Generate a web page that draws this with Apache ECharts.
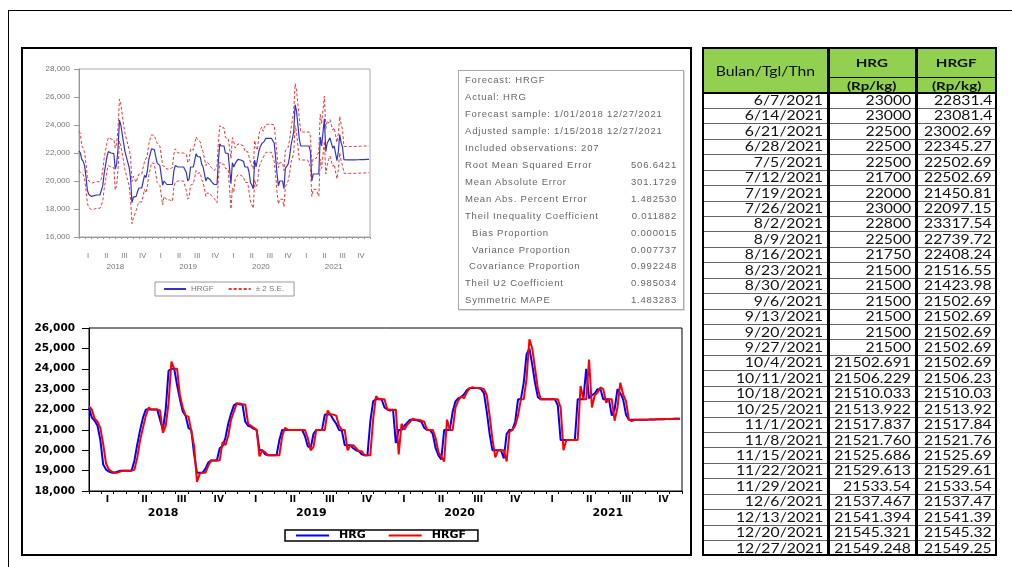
<!DOCTYPE html>
<html>
<head>
<meta charset="utf-8">
<script src="https://cdn.jsdelivr.net/npm/echarts@6/dist/echarts.min.js"></script>
<style>
body { margin: 0; background: #fff; }
#page { position: relative; width: 1012px; height: 567px; overflow: hidden; font-family: 'Liberation Sans', Arial, sans-serif; }
.frameTop { position: absolute; left: 8px; top: 10px; width: 1004px; height: 0; border-top: 1.5px solid #000; }
.frameLeft { position: absolute; left: 8px; top: 10px; width: 0; height: 557px; border-left: 1.5px solid #000; }
.panel { position: absolute; left: 21px; top: 47px; width: 671px; height: 509px; box-sizing: border-box; border: 2px solid #000; }
#chart { position: absolute; left: 0; top: 0; width: 1012px; height: 567px; }
#stats { position: absolute; left: 458px; top: 70px; width: 226px; height: 240px; box-sizing: border-box; border: 1px solid #aaa; box-shadow: 1px 1px 0 #ddd; color: #666; font-size: 9.5px; letter-spacing: 0.8px; }
#stats .ln { position: absolute; left: 6px; right: 6px; height: 17px; line-height: 17px; white-space: nowrap; }
#stats .val { position: absolute; right: 0; top: 0; }
#tbl { position: absolute; left: 702px; top: 47px; width: 295px; height: 509px; box-sizing: border-box; font-family: Lato, 'Liberation Sans', sans-serif; color: #111; }
#tbl div { position: absolute; }
#tbl .txt span { display: inline-block; transform: scaleX(1.26); white-space: nowrap; }
</style>
</head>
<body>
<div id="page">
  <div class="frameTop"></div>
  <div class="frameLeft"></div>
  <div class="panel"></div>
  <div id="chart"></div>
  <div id="stats"></div>
  <div id="tbl"></div>
</div>
<script>
// weekly series, first week 1/1/2018
var weekStart = Date.UTC(2018, 0, 1)
var weekMs = 7 * 86400000
var quarterNames = ['I', 'II', 'III', 'IV']
var yearNames = ['2018', '2019', '2020', '2021']

// HRG, weeks 1/1/2018 .. 5/31/2021
var hrgEarly = [
  22100, 21600, 21450, 21200, 20500, 19300, 19050, 18950, 18900, 18900,
  18950, 19000, 19000, 19000, 19000, 19000, 19500, 20300, 21000, 21600,
  22000, 22000, 22000, 22000, 22000, 21500, 21000, 22000, 23900, 24000,
  24000, 23200, 22500, 21900, 21700, 21100, 21000, 19800, 18900, 18900,
  18900, 19100, 19400, 19500, 19500, 19500, 20100, 20200, 20600, 21300,
  21800, 22200, 22300, 22250, 22250, 21400, 21200, 21150, 21050, 21000,
  20000, 20000, 19800, 19750, 19750, 19750, 19750, 20500, 21000, 21000,
  21000, 21000, 21000, 21000, 21000, 21000, 20700, 20200, 20100, 20800,
  21000, 21000, 21000, 21750, 21750, 21750, 21500, 21300, 21000, 20950,
  20250, 20250, 20250, 20100, 20000, 19950, 19800, 19750, 19750, 21400,
  22400, 22500, 22500, 22500, 22100, 22000, 21950, 22000, 20350, 21000,
  21000, 21200, 21350, 21500, 21500, 21480, 21450, 21400, 21100, 21000,
  21000, 20800, 20100, 19750, 19550, 21000, 21000, 21000, 21900, 22400,
  22550, 22600, 22750, 22950, 23050, 23050, 23050, 23050, 23000, 22800,
  21900, 20800, 20000, 20000, 20000, 20000, 19600, 20800, 21000, 21000,
  21400, 22500, 22500, 23300, 24700, 25000, 24200, 23300, 22600, 22500,
  22500, 22500, 22500, 22500, 22500, 22200, 20500, 20500, 20500, 20500,
  20500, 20500, 22500, 22500, 22500, 24000, 22550, 22700, 22800
]

// HRGF, same weeks
var hrgfEarly = [
  22150, 22000, 21550, 21400, 21100, 20300, 19350, 19050, 18950, 18900,
  18900, 18950, 19000, 19000, 19000, 19000, 19050, 19650, 20500, 21100,
  21700, 22100, 22000, 22000, 22000, 21950, 20850, 21200, 22300, 24350,
  24000, 24000, 22700, 22100, 21700, 21650, 20950, 20200, 18450, 18850,
  18900, 18900, 19250, 19500, 19500, 19500, 19500, 20400, 20250, 20700,
  21500, 21900, 22300, 22300, 22250, 22250, 21300, 21200, 21100, 21000,
  19700, 20000, 19900, 19750, 19750, 19750, 19750, 19750, 20700, 21100,
  21000, 21000, 21000, 21000, 21000, 21000, 21000, 20600, 20000, 20150,
  21000, 21000, 21000, 21000, 21950, 21750, 21750, 21700, 21200, 21000,
  21000, 20000, 20250, 20250, 20100, 19950, 19950, 19750, 19750, 19750,
  21500, 22650, 22500, 22500, 22500, 22000, 22000, 21950, 22000, 19800,
  21300, 21000, 21250, 21400, 21550, 21500, 21500, 21450, 21400, 21000,
  21000, 21000, 20600, 19900, 19700, 19450, 21500, 21000, 21000, 22100,
  22450, 22650, 22550, 22850, 23050, 23100, 23050, 23050, 23050, 23000,
  22700, 21700, 20550, 19650, 20000, 20000, 20000, 19450, 20900, 21000,
  21200, 21700, 22500, 22500, 23500, 25450, 25000, 24000, 23000, 22500,
  22500, 22500, 22500, 22500, 22500, 22500, 22100, 20000, 20500, 20500,
  20500, 20500, 20500, 23150, 22500, 22500, 24450, 22100, 22700
]

// table on the right, 6/7/2021 .. 12/27/2021
var tableDates = [
  '6/7/2021', '6/14/2021', '6/21/2021', '6/28/2021', '7/5/2021', '7/12/2021',
  '7/19/2021', '7/26/2021', '8/2/2021', '8/9/2021', '8/16/2021', '8/23/2021',
  '8/30/2021', '9/6/2021', '9/13/2021', '9/20/2021', '9/27/2021', '10/4/2021',
  '10/11/2021', '10/18/2021', '10/25/2021', '11/1/2021', '11/8/2021', '11/15/2021',
  '11/22/2021', '11/29/2021', '12/6/2021', '12/13/2021', '12/20/2021', '12/27/2021'
]
var tableHRG = [
  '23000', '23000', '22500', '22500', '22500', '21700', '22000', '23000', '22800', '22500',
  '21750', '21500', '21500', '21500', '21500', '21500', '21500', '21502.691', '21506.229', '21510.033',
  '21513.922', '21517.837', '21521.760', '21525.686', '21529.613', '21533.54', '21537.467', '21541.394', '21545.321', '21549.248'
]
var tableHRGF = [
  '22831.4', '23081.4', '23002.69', '22345.27', '22502.69', '22502.69', '21450.81', '22097.15', '23317.54', '22739.72',
  '22408.24', '21516.55', '21423.98', '21502.69', '21502.69', '21502.69', '21502.69', '21502.69', '21506.23', '21510.03',
  '21513.92', '21517.84', '21521.76', '21525.69', '21529.61', '21533.54', '21537.47', '21541.39', '21545.32', '21549.25'
]

var se2 = [
  1400, 1400, 950, 950, 950, 950, 950, 950, 950, 950,
  950, 950, 950, 950, 950, 950, 1100, 1100, 1100, 1100,
  1000, 1000, 1000, 1000, 1000, 1000, 1500, 1500, 1500, 1500,
  1500, 1500, 1300, 1300, 1300, 1300, 1300, 1500, 1500, 1500,
  1500, 1000, 1000, 1000, 1000, 1000, 1000, 1000, 1100, 1100,
  1100, 1100, 1000, 1000, 1000, 1000, 1400, 1400, 1400, 1400,
  1400, 1100, 1100, 1100, 1100, 1100, 1100, 1200, 1200, 1200,
  1200, 1000, 1000, 1000, 1000, 1000, 1000, 1300, 1300, 1300,
  1300, 1200, 1200, 1200, 1200, 1200, 1200, 1100, 1100, 1100,
  1100, 1100, 1100, 1000, 1000, 1000, 1000, 1000, 1000, 1300,
  1300, 1300, 1300, 1300, 1300, 1100, 1100, 1100, 1100, 1800,
  1800, 1800, 1100, 1100, 1100, 1100, 1100, 1100, 1100, 1100,
  1100, 1100, 1400, 1400, 1400, 1400, 1400, 1400, 1200, 1200,
  1200, 1200, 1000, 1000, 1000, 1000, 1000, 1000, 1000, 1000,
  1300, 1300, 1300, 1300, 1300, 1300, 1300, 1300, 1300, 1300,
  1200, 1200, 1200, 1200, 1500, 1500, 1500, 1500, 1500, 1000,
  1000, 1000, 1000, 1000, 1000, 1000, 1100, 1100, 1100, 1100,
  1100, 1100, 1600, 1600, 1600, 1600, 1600, 1600, 1600, 1300,
  1300, 1300, 1300, 1300, 1300, 1300, 1300, 1300, 1300, 1300,
  960, 960, 960, 960, 960, 960, 960, 960, 960, 960,
  960, 960, 960, 960, 960, 960, 960, 960, 960
]

var statLines = [
  ['Forecast: HRGF', '', 0],
  ['Actual: HRG', '', 0],
  ['Forecast sample: 1/01/2018 12/27/2021', '', 0],
  ['Adjusted sample: 1/15/2018 12/27/2021', '', 0],
  ['Included observations: 207', '', 0],
  ['Root Mean Squared Error', '506.6421', 0],
  ['Mean Absolute Error', '301.1729', 0],
  ['Mean Abs. Percent Error', '1.482530', 0],
  ['Theil Inequality Coefficient', '0.011882', 0],
  ['Bias Proportion', '0.000015', 7],
  ['Variance Proportion', '0.007737', 7],
  ['Covariance Proportion', '0.992248', 4],
  ['Theil U2 Coefficient', '0.985034', 0],
  ['Symmetric MAPE', '1.483283', 0]
]

var hrg = hrgEarly.concat(tableHRG.map(Number))
var hrgf = hrgfEarly.concat(tableHRGF.map(Number))

function pairs(vals) {
  return vals.map(function (v, i) { return [weekStart + i * weekMs, v] })
}
function quarterLabel(v) {
  var k = (v - 1.5) / 3
  var r = Math.round(k)
  return (Math.abs(k - r) < 0.01 && r >= 0 && r < 16) ? quarterNames[r % 4] : ''
}
function yearLabel(v) {
  var k = (v - 6) / 12
  var r = Math.round(k)
  return (Math.abs(k - r) < 0.01 && r >= 0 && r < 4) ? yearNames[r] : ''
}
function thousands(v) {
  return String(v).replace(/\B(?=(\d{3})+(?!\d))/g, ',')
}

// x axes for one grid: hidden time axis for the data, then ticks, quarters, years
function xAxesFor(g, c) {
  return [
    { type: 'time', gridIndex: g, min: Date.UTC(2018, 0, 1), max: Date.UTC(2022, 0, 1), show: false },
    {
      type: 'value', gridIndex: g, position: 'bottom', min: 0, max: 48, interval: 1,
      axisLine: { show: true, lineStyle: { color: c.line, width: 1 } },
      axisTick: { show: true, length: c.tick, lineStyle: { color: c.line } },
      axisLabel: { show: false }, splitLine: { show: false }
    },
    {
      type: 'value', gridIndex: g, position: 'bottom', min: 0, max: 48, interval: 1.5,
      axisLine: { show: false }, axisTick: { show: false }, splitLine: { show: false },
      axisLabel: {
        formatter: quarterLabel, margin: c.qMargin, color: c.text,
        fontSize: c.qSize, fontFamily: c.font, fontWeight: c.weight,
        showMinLabel: true, showMaxLabel: true
      }
    },
    {
      type: 'value', gridIndex: g, position: 'bottom', min: 0, max: 48, interval: 6,
      axisLine: { show: false }, axisTick: { show: false }, splitLine: { show: false },
      axisLabel: {
        formatter: yearLabel, margin: c.yMargin, color: c.text,
        fontSize: c.ySize, fontFamily: c.font, fontWeight: c.weight
      }
    }
  ]
}

var topStyle = { line: '#999', tick: 2, text: '#777', qMargin: 15, qSize: 7.5, yMargin: 26, ySize: 8, font: 'Liberation Sans', weight: 'normal' }
var botStyle = { line: '#000', tick: 3, text: '#000', qMargin: 4, qSize: 9, yMargin: 17, ySize: 11, font: 'DejaVu Sans', weight: 'bold' }

var chart = echarts.init(document.getElementById('chart'))
chart.setOption({
  animation: false,
  grid: [
    { left: 79, top: 69, width: 291, height: 168, show: true, borderColor: '#aaa', borderWidth: 1 },
    { left: 89, top: 328, width: 593, height: 163, show: true, borderColor: '#000', borderWidth: 1 }
  ],
  xAxis: xAxesFor(0, topStyle).concat(xAxesFor(1, botStyle)),
  yAxis: [
    {
      type: 'value', gridIndex: 0, min: 16000, max: 28000, interval: 2000,
      axisLine: { show: true, lineStyle: { color: '#999' } },
      axisTick: { show: true, length: 5, lineStyle: { color: '#999' } },
      axisLabel: { formatter: thousands, margin: 9, color: '#777', fontSize: 8, fontFamily: 'Liberation Sans' },
      splitLine: { show: false }
    },
    {
      type: 'value', gridIndex: 1, min: 18000, max: 26000, interval: 1000,
      axisLine: { show: true, lineStyle: { color: '#000' } },
      axisTick: { show: true, length: 7, lineStyle: { color: '#000' } },
      axisLabel: { formatter: thousands, margin: 14, color: '#000', fontSize: 10.5, fontWeight: 'bold', fontFamily: 'DejaVu Sans' },
      splitLine: { show: false }
    }
  ],
  legend: [
    {
      data: ['HRGF_f', '± 2 S.E.'], left: 155, top: 282,
      formatter: function (n) { return n === 'HRGF_f' ? 'HRGF' : n },
      borderColor: '#999', borderWidth: 1, padding: [3, 10, 3, 8],
      itemWidth: 22, itemHeight: 9, itemGap: 14,
      itemStyle: { opacity: 0 },
      textStyle: { fontSize: 8, color: '#777', fontFamily: 'Liberation Sans' }
    },
    {
      data: ['HRG', 'HRGF'], left: 285, top: 530,
      borderColor: '#000', borderWidth: 1.5, padding: [0, 12, 0, 10],
      itemWidth: 33, itemHeight: 12, itemGap: 22,
      itemStyle: { opacity: 0 },
      textStyle: { fontSize: 11, fontWeight: 'bold', color: '#000', fontFamily: 'DejaVu Sans', padding: [0, 0, 0, 5] }
    }
  ],
  series: [
    {
      name: 'HRGF_f', type: 'line', xAxisIndex: 0, yAxisIndex: 0, symbol: 'none',
      lineStyle: { color: '#3434c4', width: 1.2 }, itemStyle: { color: '#3434c4' },
      data: pairs(hrgf)
    },
    {
      name: '± 2 S.E.', type: 'line', xAxisIndex: 0, yAxisIndex: 0, symbol: 'none',
      lineStyle: { color: '#e23a3a', width: 1, type: [3, 2] }, itemStyle: { color: '#e23a3a' },
      data: pairs(hrgf.map(function (v, i) { return v + se2[i] }))
    },
    {
      name: '± 2 S.E.', type: 'line', xAxisIndex: 0, yAxisIndex: 0, symbol: 'none',
      lineStyle: { color: '#e23a3a', width: 1, type: [3, 2] }, itemStyle: { color: '#e23a3a' },
      data: pairs(hrgf.map(function (v, i) { return v - se2[i] }))
    },
    {
      name: 'HRG', type: 'line', xAxisIndex: 4, yAxisIndex: 1, symbol: 'none',
      lineStyle: { color: '#0000ff', width: 2 }, itemStyle: { color: '#0000ff' },
      data: pairs(hrg)
    },
    {
      name: 'HRGF', type: 'line', xAxisIndex: 4, yAxisIndex: 1, symbol: 'none',
      lineStyle: { color: '#ff0000', width: 2 }, itemStyle: { color: '#ff0000' },
      data: pairs(hrgf)
    }
  ]
})

// forecast evaluation box
var stats = document.getElementById('stats')
statLines.forEach(function (s, i) {
  var d = document.createElement('div')
  d.className = 'ln'
  d.style.top = (i * 16.95) + 'px'
  d.style.paddingLeft = s[2] + 'px'
  d.innerHTML = s[0] + (s[1] ? '<span class="val">' + s[1] + '</span>' : '')
  stats.appendChild(d)
})

// table
var tbl = document.getElementById('tbl')
var colX = [0, 126, 214, 295]
var rowH = 463 / 30
function box(x, y, w, h, css) {
  var d = document.createElement('div')
  d.style.left = x + 'px'; d.style.top = y + 'px'
  d.style.width = w + 'px'; d.style.height = h + 'px'
  if (css) d.style.cssText += css
  tbl.appendChild(d)
  return d
}
function cell(x, y, w, h, text, css, origin) {
  var d = box(x, y, w, h, 'line-height:' + h + 'px;' + css)
  d.className = 'txt'
  d.innerHTML = '<span style="transform-origin:' + origin + '">' + text + '</span>'
}
box(0, 0, 295, 46, 'background:#92d050')
cell(0, 2, 126, 46, 'Bulan/Tgl/Thn', 'text-align:center;font-size:12.5px;', 'center')
cell(126, 0, 88, 31, 'HRG', 'text-align:center;font-size:12px;font-weight:bold;', 'center')
cell(214, 0, 81, 31, 'HRGF', 'text-align:center;font-size:12px;font-weight:bold;', 'center')
cell(126, 31, 88, 15, '(Rp/kg)', 'text-align:center;font-size:12px;font-weight:bold;', 'center')
cell(214, 31, 81, 15, '(Rp/kg)', 'text-align:center;font-size:12px;font-weight:bold;', 'center')
tableDates.forEach(function (dt, r) {
  var y = 46 + r * rowH
  var vals = [dt, tableHRG[r], tableHRGF[r]]
  vals.forEach(function (t, c) {
    cell(colX[c], y, colX[c + 1] - colX[c] - 5, rowH, t, 'text-align:right;font-size:12.5px;', 'right center')
  })
  if (r > 0) box(0, y - 0.5, 295, 0, 'border-top:1px solid #666')
})
box(126, 30, 169, 0, 'border-top:1.5px solid #000')
box(0, 45, 295, 0, 'border-top:2px solid #000')
box(125, 0, 0, 509, 'border-left:3px solid #000')
box(213, 0, 0, 509, 'border-left:3px solid #000')
box(0, 0, 295, 509, 'box-sizing:border-box;border:2.5px solid #000')
</script>
</body>
</html>
